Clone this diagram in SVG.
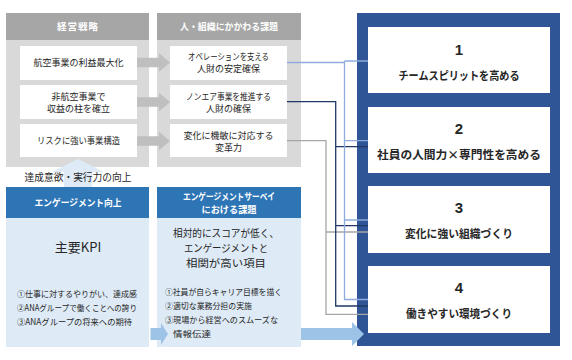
<svg xmlns="http://www.w3.org/2000/svg" width="572" height="360" viewBox="0 0 572 360">
<style>
text{font-family:"Noto Sans CJK JP","Noto Sans",sans-serif;fill:#262626;text-anchor:middle}
.s{font-size:9px}
.h{font-size:9.5px;font-weight:bold;fill:#fff}
.l{font-size:8.5px;text-anchor:start}
.m{font-size:10.5px}
.n{font-size:15px;font-weight:bold;font-family:"Liberation Sans","Noto Sans",sans-serif}
.t{font-size:11.5px;font-weight:bold}
.gp{fill:#D9D9D9}.gh{fill:#A6A6A6}.wb{fill:#fff}
.bp{fill:#DEEBF7}.bh{fill:#2E75B6}
.ga{fill:#BFBFBF}.ba{fill:#9DC3E6}
.c{fill:none;stroke-width:1.3}
</style>
<rect width="572" height="360" fill="#fff"/>
<g id="strategy">
<rect class="gp" x="6" y="13" width="143" height="154"/>
<rect class="gh" x="6" y="13" width="143" height="27"/>
<text class="h" x="78" y="29.5" letter-spacing="1">経営戦略</text>
</g>
<g id="issues">
<rect class="gp" x="157" y="13" width="144" height="154"/>
<rect class="gh" x="157" y="13" width="144" height="27"/>
<text class="h" x="229" y="29.5" textLength="98" lengthAdjust="spacingAndGlyphs">人・組織にかかわる課題</text>
</g>
<g id="gray-arrows">
<polygon class="ga" points="137,57.7 159,57.7 159,53.3 170,62.5 159,71.7 159,67.3 137,67.3"/>
<polygon class="ga" points="137,97.2 159,97.2 159,92.8 170,102 159,111.2 159,106.8 137,106.8"/>
<polygon class="ga" points="137,136.2 159,136.2 159,131.8 170,141 159,150.2 159,145.8 137,145.8"/>
</g>
<g id="s1"><rect class="wb" x="20" y="46" width="117" height="34"/><text class="s" x="78.5" y="66.2">航空事業の利益最大化</text></g>
<g id="s2"><rect class="wb" x="20" y="85" width="117" height="34"/><text class="s" x="78.5" y="99.9">非航空事業で</text><text class="s" x="78.5" y="111.5">収益の柱を確立</text></g>
<g id="s3"><rect class="wb" x="20" y="124" width="117" height="33"/><text class="s" x="78.5" y="144.2" textLength="83" lengthAdjust="spacingAndGlyphs">リスクに強い事業構造</text></g>
<g id="i1"><rect class="wb" x="170" y="46" width="117" height="34"/><text class="s" x="228.5" y="60.2" textLength="81" lengthAdjust="spacingAndGlyphs">オペレーションを支える</text><text class="s" x="228.5" y="72.2">人財の安定確保</text></g>
<g id="i2"><rect class="wb" x="170" y="85" width="117" height="34"/><text class="s" x="228.5" y="99.9" textLength="85" lengthAdjust="spacingAndGlyphs">ノンエア事業を推進する</text><text class="s" x="228.5" y="111.5">人財の確保</text></g>
<g id="i3"><rect class="wb" x="170" y="124" width="117" height="33"/><text class="s" x="228.5" y="139.2">変化に機敏に対応する</text><text class="s" x="228.5" y="150.9">変革力</text></g>
<g id="up-arrow">
<polygon fill="#DEEBF7" points="78,159 52,172 64,172 64,187 92,187 92,172 104,172"/>
<text x="78" y="180.5" style="font-size:10px" textLength="107" lengthAdjust="spacingAndGlyphs">達成意欲・実行力の向上</text>
</g>
<g id="engagement">
<rect class="bp" x="6" y="187" width="143" height="160"/>
<rect class="bh" x="6" y="187" width="143" height="31"/>
<text class="h" x="78" y="206" textLength="87" lengthAdjust="spacingAndGlyphs">エンゲージメント向上</text>
<text x="78" y="251.5" style="font-size:13px">主要KPI</text>
<text class="l" x="17" y="297" textLength="120" lengthAdjust="spacingAndGlyphs">①仕事に対するやりがい、達成感</text>
<text class="l" x="17" y="310.5" textLength="120" lengthAdjust="spacingAndGlyphs">②ANAグループで働くことへの誇り</text>
<text class="l" x="17" y="325" textLength="115" lengthAdjust="spacingAndGlyphs">③ANAグループの将来への期待</text>
</g>
<g id="survey">
<rect class="bp" x="157" y="187" width="144" height="160"/>
<rect class="bh" x="157" y="187" width="144" height="31"/>
<text class="h" x="229" y="200" textLength="92" lengthAdjust="spacingAndGlyphs">エンゲージメントサーベイ</text>
<text class="h" x="229" y="212.5" textLength="55" lengthAdjust="spacingAndGlyphs">における課題</text>
<text class="m" x="226" y="236.8" textLength="106" lengthAdjust="spacingAndGlyphs">相対的にスコアが低く、</text>
<text class="m" x="226" y="251.8" textLength="84" lengthAdjust="spacingAndGlyphs">エンゲージメントと</text>
<text class="m" x="226" y="266.8" textLength="80" lengthAdjust="spacingAndGlyphs">相関が高い項目</text>
<text class="l" x="165" y="294.7" textLength="117" lengthAdjust="spacingAndGlyphs">①社員が自らキャリア目標を描く</text>
<text class="l" x="165" y="308.7" textLength="87" lengthAdjust="spacingAndGlyphs">②適切な業務分担の実施</text>
<text class="l" x="165" y="323" textLength="113" lengthAdjust="spacingAndGlyphs">③現場から経営へのスムーズな</text>
<text class="l" x="173" y="337" textLength="38" lengthAdjust="spacingAndGlyphs">情報伝達</text>
</g>
<g id="blue-arrows">
<polygon class="ba" points="150.5,328 161,328 161,323 168,334 161,345 161,340 150.5,340"/>
</g>
<g id="goals">
<rect fill="#2F5597" x="357" y="13" width="203" height="333"/>
</g>
<g id="blue-arrow-main">
<polygon class="ba" points="301,328 352,328 352,322 364,334 352,346 352,340 301,340"/>
</g>
<g id="g1"><rect class="wb" x="368" y="27" width="182" height="66"/><text class="n" x="459" y="54.5">1</text><text class="t" x="459" y="80" textLength="121" lengthAdjust="spacingAndGlyphs">チームスピリットを高める</text></g>
<g id="g2"><rect class="wb" x="368" y="107" width="182" height="66"/><text class="n" x="459" y="133.5">2</text><text class="t" x="459" y="159" textLength="164" lengthAdjust="spacingAndGlyphs">社員の人間力×専門性を高める</text></g>
<g id="g3"><rect class="wb" x="368" y="186" width="182" height="67"/><text class="n" x="459" y="212.5">3</text><text class="t" x="459" y="238" textLength="108" lengthAdjust="spacingAndGlyphs">変化に強い組織づくり</text></g>
<g id="g4"><rect class="wb" x="368" y="266" width="182" height="67"/><text class="n" x="459" y="292.5">4</text><text class="t" x="459" y="318" textLength="106" lengthAdjust="spacingAndGlyphs">働きやすい環境づくり</text></g>
<g id="connectors">
<path class="c" stroke="#A6A6A6" d="M287 140.7H326V314.3H368M326 232H368"/>
<path class="c" stroke="#203864" d="M287 101.7H335.7V306H368M335.7 146.7H368M335.7 225.7H368"/>
<path class="c" stroke="#8FAADC" d="M287 62.5H344.5M344.5 61V299.5H368M344.5 61H368M344.5 140.7H368M344.5 220H368"/>
</g>
</svg>
